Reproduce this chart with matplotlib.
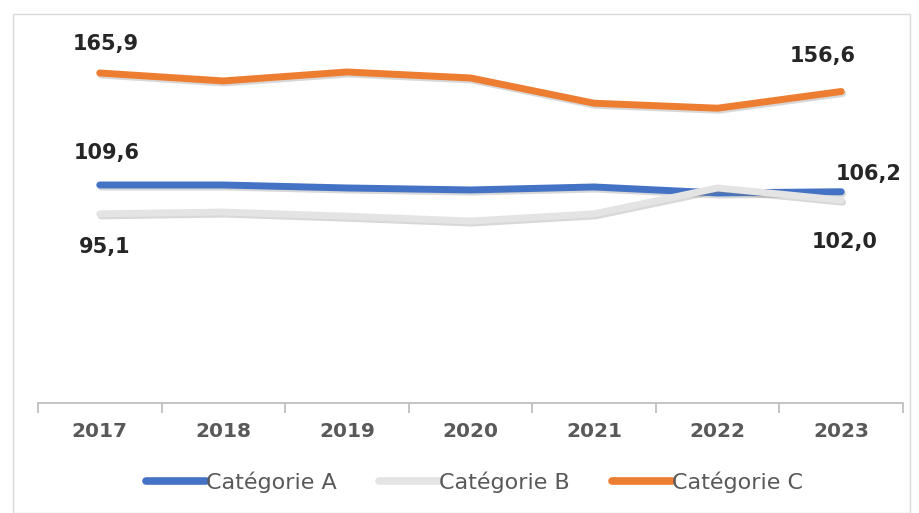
import numpy as np
import matplotlib.pyplot as plt
import matplotlib.patheffects as pe
from matplotlib.patches import Rectangle

plt.rcParams['font.family'] = ['DejaVu Sans']

years = ['2017', '2018', '2019', '2020', '2021', '2022', '2023']
cat_a = [109.6, 109.6, 108.1, 107.1, 108.6, 105.6, 106.2]
cat_b = [95.1, 96.0, 93.9, 91.5, 95.1, 108.1, 102.0]
cat_c = [165.9, 161.9, 166.4, 163.4, 150.7, 148.2, 156.6]
series_names = ['Catégorie A', 'Catégorie B', 'Catégorie C']

colors = ['#4472C4', '#E4E4E4', '#ED7D31']

fig = plt.figure(figsize=(9.19, 5.13), dpi=100)
ax = fig.add_axes([0.0413, 0.2144, 0.9413, 0.698])

# light frame around the whole chart
fig.patches.append(Rectangle((13 / 919, 0), 897 / 919, 1 - 14 / 513, transform=fig.transFigure,
                             fill=False, edgecolor='#D9D9D9', linewidth=1))

x = np.arange(len(years))
shadow = [pe.SimpleLineShadow(offset=(1, -1.5), shadow_color='#808080', alpha=0.3), pe.Normal()]
lines = []
for vals, col, name in zip([cat_a, cat_b, cat_c], colors, series_names):
    ln, = ax.plot(x, vals, color=col, linewidth=5, solid_capstyle='round',
                  path_effects=shadow, label=name)
    lines.append(ln)

ax.set_xlim(-0.5, len(years) - 0.5)
ax.set_ylim(0, 180)
ax.set_yticks([])
for s in ['left', 'right', 'top']:
    ax.spines[s].set_visible(False)
ax.spines['bottom'].set_color('#BFBFBF')
ax.spines['bottom'].set_linewidth(1.3)

ax.set_xticks(x)
ax.set_xticklabels(years, fontsize=14.5, fontweight='bold', color='#595959')
ax.tick_params(axis='x', which='major', length=0, pad=14)
ax.set_xticks(np.arange(-0.5, len(years)), minor=True)
ax.tick_params(axis='x', which='minor', length=7, color='#BFBFBF', width=1.3)

# first / last value labels
lab_kw = dict(fontsize=15, fontweight='bold', color='#262626', ha='center', va='center',
              textcoords='offset pixels')
ax.annotate('165,9', (0, cat_c[0]), xytext=(6, 29), **lab_kw)
ax.annotate('109,6', (0, cat_a[0]), xytext=(7, 32), **lab_kw)
ax.annotate('95,1', (0, cat_b[0]), xytext=(5, -33), **lab_kw)
ax.annotate('156,6', (6, cat_c[-1]), xytext=(-19, 35), **lab_kw)
ax.annotate('106,2', (6, cat_a[-1]), xytext=(27, 18), **lab_kw)
ax.annotate('102,0', (6, cat_b[-1]), xytext=(3, -42), **lab_kw)

leg = fig.legend(lines, series_names, loc='center', bbox_to_anchor=(0.516, 0.06), ncol=3,
                 frameon=False, fontsize=16, handlelength=2.7, handletextpad=0.0,
                 columnspacing=1.9, labelcolor='#595959')
for h in leg.legend_handles:
    h.set_linewidth(5.5)
    h.set_path_effects([])

fig.savefig('out.png', dpi=100)
